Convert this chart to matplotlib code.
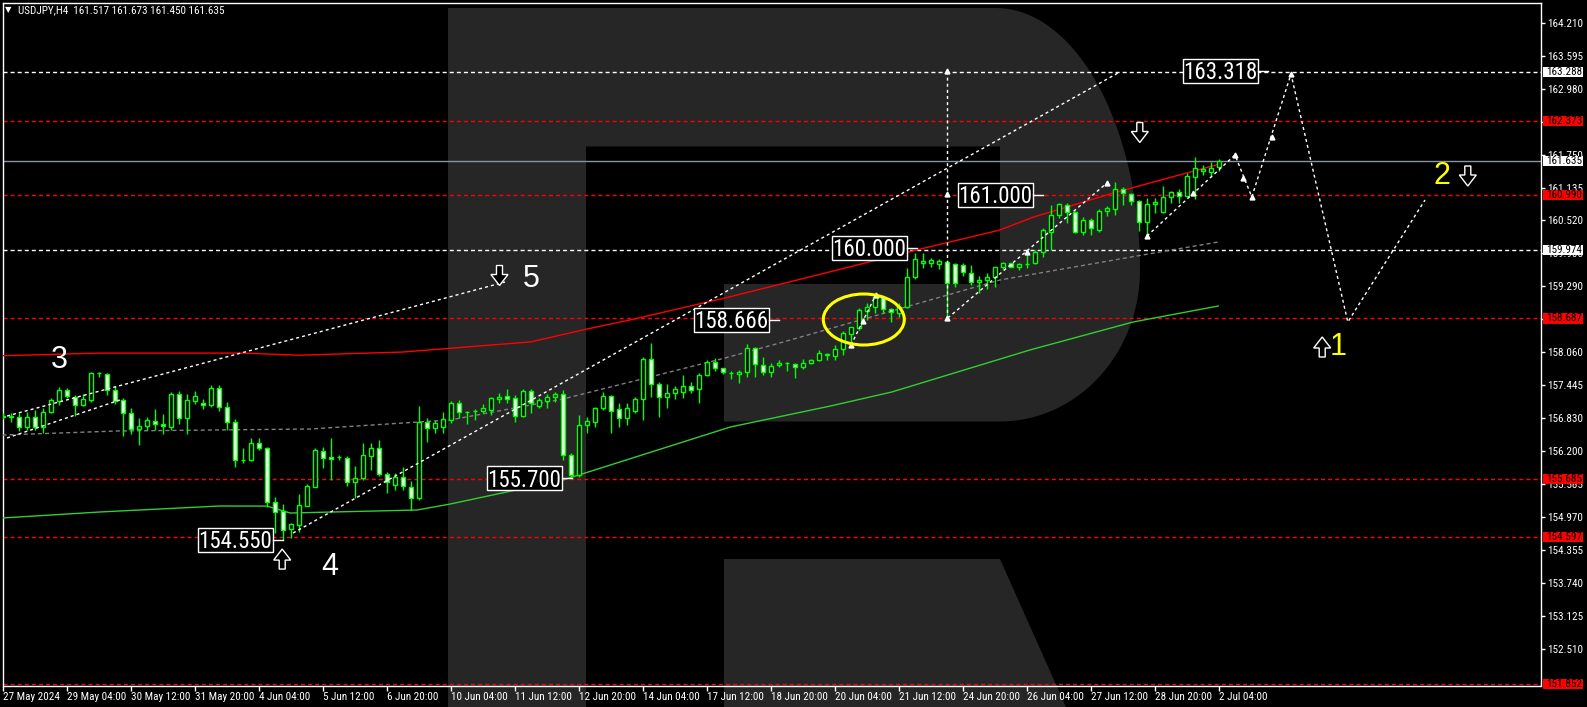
import numpy as np
import matplotlib
matplotlib.use('Agg')
import matplotlib.pyplot as plt
import matplotlib.transforms as mtransforms
from matplotlib.patches import Rectangle, Polygon, Ellipse
from matplotlib.lines import Line2D
from matplotlib import font_manager
from matplotlib.font_manager import FontProperties


def find_family(names):
    for n in names:
        try:
            font_manager.findfont(FontProperties(family=n), fallback_to_default=False)
            return FontProperties(family=n)
        except ValueError:
            pass
    return None


# fonte estreita (como a do MT4), se houver; senao Liberation Sans menor
narrow_fp = find_family(['Liberation Sans Narrow', 'Roboto Condensed', 'Arial Narrow',
                         'Noto Sans Condensed', 'Open Sans Condensed', 'DejaVu Sans Condensed'])
if narrow_fp is None:
    for fam in ['Noto Sans', 'Roboto', 'Open Sans']:
        try:
            f = font_manager.findfont(FontProperties(family=fam, stretch='condensed'),
                                      fallback_to_default=False)
            if 'ondensed' in f or 'arrow' in f:
                narrow_fp = FontProperties(fname=f)
                break
        except ValueError:
            pass
if narrow_fp is not None:
    SMALL, BIG = 8, 16.5
else:
    narrow_fp = find_family(['Liberation Sans', 'Arial']) or FontProperties(family='DejaVu Sans')
    SMALL, BIG = 7, 14
SANS = 'Liberation Sans'

# ---- dados: velas H4 USDJPY (27 May 20:00 .. 2 Jul 04:00) ----
opens = [156.87, 156.85, 156.85, 156.653, 156.84, 156.653, 156.933, 157.139, 157.344, 157.226,
         157.064, 157.157, 157.662, 157.643, 157.344, 157.164, 156.915, 156.615, 156.672, 156.765,
         156.709, 156.665, 157.27, 156.821, 157.151, 157.101, 157.064, 157.382, 157.027, 156.746,
         156.042, 156.042, 156.354, 156.26, 155.264, 155.089, 154.747, 154.821, 155.189, 155.544,
         156.217, 156.092, 156.09, 156.073, 155.625, 155.70, 156.123, 156.26, 155.774, 155.575,
         155.731, 155.544, 155.326, 156.746, 156.634, 156.65, 156.79, 157.101, 156.946, 156.95,
         156.964, 156.977, 157.176, 157.232, 157.195, 156.865, 157.338, 157.058, 157.151, 157.213,
         157.276, 156.136, 155.762, 156.696, 156.758, 157.008, 157.238, 156.99, 156.821, 156.964,
         157.176, 157.93, 157.463, 157.213, 157.288, 157.307, 157.425, 157.363, 157.631, 157.868,
         157.756, 157.66, 157.643, 157.693, 158.129, 157.817, 157.681, 157.817, 157.85, 157.83,
         157.774, 157.849, 157.911, 158.01, 157.986, 158.11, 158.397, 158.515, 158.827, 158.895,
         159.082, 158.858, 158.783, 158.895, 159.456, 159.718, 159.718, 159.705, 159.749, 159.699,
         159.687, 159.544, 159.363, 159.406, 159.456, 159.643, 159.718, 159.643, 159.705, 159.718,
         159.936, 160.31, 160.621, 160.808, 160.671, 160.31, 160.528, 160.341, 160.696, 160.727,
         161.101, 161.014, 160.889, 160.484, 160.827, 160.683, 160.964, 161.045, 160.983, 161.325,
         161.45, 161.43, 161.517]
highs = [156.92, 156.915, 156.915, 156.946, 156.977, 157.008, 157.195, 157.40, 157.382, 157.257,
         157.276, 157.681, 157.693, 157.662, 157.425, 157.195, 157.008, 156.821, 156.84, 156.995,
         156.902, 157.319, 157.332, 157.276, 157.332, 157.182, 157.444, 157.444, 157.133, 156.802,
         156.26, 156.447, 156.46, 156.292, 155.345, 155.22, 154.871, 155.407, 155.594, 156.26,
         156.279, 156.447, 156.136, 156.117, 155.93, 156.354, 156.354, 156.416, 155.824, 155.806,
         155.905, 155.656, 157.052, 156.821, 156.79, 156.946, 157.151, 157.164, 156.964, 156.989,
         157.089, 157.226, 157.301, 157.363, 157.257, 157.363, 157.363, 157.195, 157.276, 157.32,
         157.35, 156.167, 156.883, 156.852, 157.039, 157.319, 157.257, 157.101, 157.101, 157.226,
         157.961, 158.223, 157.506, 157.463, 157.425, 157.631, 157.506, 157.662, 157.911, 157.943,
         157.768, 157.712, 157.724, 158.21, 158.16, 157.973, 157.849, 157.911, 157.88, 157.849,
         157.93, 157.93, 158.098, 158.048, 158.191, 158.459, 158.534, 158.876, 158.97, 159.126,
         159.095, 158.876, 158.982, 159.624, 159.905, 159.905, 159.824, 159.793, 159.78, 159.718,
         159.718, 159.687, 159.481, 159.543, 159.655, 159.749, 159.73, 159.718, 159.886, 159.967,
         160.372, 160.808, 160.852, 160.839, 160.696, 160.59, 160.559, 160.727, 160.789, 161.244,
         161.138, 161.039, 160.901, 160.933, 160.945, 161.163, 161.076, 161.101, 161.40, 161.705,
         161.556, 161.618, 161.673]
lows = [156.80, 156.76, 156.59, 156.603, 156.603, 156.541, 156.915, 157.07, 157.195, 156.865,
        157.052, 157.133, 157.60, 157.257, 157.089, 156.491, 156.528, 156.329, 156.603, 156.603,
        156.528, 156.603, 156.715, 156.522, 157.089, 156.995, 157.039, 156.964, 156.603, 155.918,
        155.993, 156.024, 156.229, 155.17, 154.672, 154.55, 154.58, 154.703, 155.183, 155.531,
        155.887, 155.669, 156.042, 155.563, 155.326, 155.669, 155.855, 155.749, 155.432, 155.482,
        155.482, 155.108, 155.295, 156.385, 156.541, 156.541, 156.74, 156.821, 156.715, 156.79,
        156.914, 156.883, 157.101, 157.114, 156.759, 156.84, 156.914, 157.008, 157.008, 157.132,
        156.042, 155.70, 155.718, 156.54, 156.665, 156.977, 156.54, 156.665, 156.697, 156.914,
        156.79, 157.226, 156.852, 157.008, 157.182, 157.195, 157.301, 157.114, 157.618, 157.712,
        157.65, 157.55, 157.475, 157.60, 157.60, 157.631, 157.60, 157.774, 157.706, 157.569,
        157.743, 157.836, 157.899, 157.911, 157.911, 158.004, 158.204, 158.471, 158.658, 158.783,
        158.783, 158.627, 158.721, 158.877, 159.419, 159.624, 159.655, 159.606, 158.69, 159.282,
        159.481, 159.313, 159.17, 159.232, 159.282, 159.606, 159.643, 159.593, 159.624, 159.699,
        159.83, 159.967, 160.559, 160.465, 160.279, 160.247, 160.247, 160.31, 160.609, 160.621,
        160.808, 160.808, 160.328, 160.25, 160.652, 160.665, 160.839, 160.839, 160.964, 160.925,
        161.369, 161.338, 161.45]
closes = [156.84, 156.86, 156.653, 156.84, 156.653, 156.939, 157.164, 157.351, 157.238, 157.064,
          157.176, 157.662, 157.665, 157.351, 157.151, 156.915, 156.615, 156.672, 156.784, 156.709,
          156.672, 157.276, 156.821, 157.164, 157.238, 157.064, 157.382, 157.027, 156.746, 156.042,
          156.05, 156.354, 156.26, 155.264, 155.077, 154.734, 154.84, 155.201, 155.556, 156.229,
          156.073, 156.055, 156.092, 155.625, 155.70, 156.136, 156.26, 155.774, 155.625, 155.731,
          155.556, 155.326, 156.746, 156.634, 156.728, 156.802, 157.101, 156.933, 156.946, 156.96,
          157.008, 157.195, 157.226, 157.189, 156.865, 157.338, 157.101, 157.164, 157.226, 157.276,
          156.136, 155.762, 156.696, 156.771, 157.008, 157.238, 156.964, 156.821, 157.008, 157.176,
          157.93, 157.463, 157.213, 157.288, 157.363, 157.425, 157.35, 157.631, 157.868, 157.756,
          157.681, 157.665, 157.681, 158.129, 157.837, 157.681, 157.805, 157.849, 157.85, 157.774,
          157.849, 157.911, 158.036, 158.02, 158.11, 158.409, 158.521, 158.845, 158.895, 159.082,
          158.858, 158.802, 158.895, 159.456, 159.793, 159.768, 159.78, 159.761, 159.357, 159.357,
          159.55, 159.363, 159.406, 159.456, 159.643, 159.718, 159.655, 159.699, 159.71, 159.936,
          160.341, 160.621, 160.821, 160.671, 160.31, 160.528, 160.372, 160.696, 160.746, 161.101,
          161.026, 160.889, 160.484, 160.827, 160.87, 160.964, 161.045, 160.983, 161.35, 161.493,
          161.49, 161.493, 161.635]

tick_bars = list(range(0, 153, 8))
tick_labels = ['27 May 2024', '29 May 04:00', '30 May 12:00', '31 May 20:00', '4 Jun 04:00',
               '5 Jun 12:00', '6 Jun 20:00', '10 Jun 04:00', '11 Jun 12:00', '12 Jun 20:00',
               '14 Jun 04:00', '17 Jun 12:00', '18 Jun 20:00', '20 Jun 04:00', '21 Jun 12:00',
               '24 Jun 20:00', '26 Jun 04:00', '27 Jun 12:00', '28 Jun 20:00', '2 Jul 04:00']

price_ticks = [164.210, 163.595, 162.980, 162.365, 161.750, 161.135, 160.520, 159.905, 159.290,
               158.675, 158.060, 157.445, 156.830, 156.215, 155.585, 154.970, 154.355, 153.740,
               153.125, 152.510]
price_tick_labels = ['164.210', '163.595', '162.980', '162.365', '161.750', '161.135', '160.520',
                     '159.905', '159.290', '158.675', '158.060', '157.445', '156.830', '156.200',
                     '155.585', '154.970', '154.355', '153.740', '153.125', '152.510']

red_levels = [162.373, 160.990, 158.687, 155.685, 154.597, 151.852]
white_levels = [163.288, 159.974]
bid = 161.635

# medias moveis / canal
red_ma_x = [-0.06, 12, 30, 37, 50, 53.4, 66, 73, 78.4, 90.25, 103.4, 114.25, 124.6, 128.75, 138.75, 144.6, 151.75]
red_ma_y = [157.99, 158.04, 158.04, 158.00, 158.06, 158.10, 158.25, 158.49, 158.66, 159.07, 159.56,
            159.97, 160.34, 160.58, 161.03, 161.27, 161.56]
green_ma_x = [-0.06, 12.1, 27.1, 33, 35.9, 51.75, 55.9, 70, 90.9, 103.4, 111.1, 128.4, 141.25, 151.9]
green_ma_y = [154.958, 155.07, 155.182, 155.18, 155.051, 155.107, 155.219, 155.668, 156.658, 157.05,
              157.313, 158.10, 158.621, 158.92]
gray_x = [-0.06, 14.25, 38.4, 55.9, 70, 90.25, 97.1, 111.1, 124.6, 144.6, 151.9]
gray_y = [156.509, 156.584, 156.621, 156.79, 157.182, 157.948, 158.229, 158.827, 159.406, 159.93, 160.116]

# linhas tracejadas brancas (analise de ondas)
dotted_lines = [
    ([0.5, 62.75], [156.864, 159.369]),
    ([0.5, 14.6], [156.453, 157.163]),
    ([36.25, 139.6], [154.677, 163.294]),
    ([118, 118], [163.313, 158.696]),
    ([118.1, 138], [158.696, 161.22]),
    ([106, 109.1], [158.191, 159.126]),
    ([143, 154, 156.1, 161, 168.1, 177.75], [160.229, 161.743, 160.958, 163.257, 158.621, 160.902]),
]
anchor_x = [118, 118, 118, 128, 138, 106, 107.5, 109.1, 143, 148.75, 154, 155, 156.1, 158.6, 161]
anchor_y = [163.313, 161.01, 158.696, 159.93, 161.22, 158.191, 158.645, 159.126, 160.229, 161.03,
            161.743, 161.313, 160.958, 162.079, 163.257]

price_labels = ['163.318', '161.000', '160.000', '158.666', '155.700', '154.550']
price_label_bars = [158.1, 130, 114.25, 97, 71.1, 35]

wave_labels = ['3', '4', '5', '1', '2']
wave_bars = [7.06, 40.9, 66.0, 166.9, 179.9]
wave_prices = [157.97, 154.107, 159.472, 158.21, 161.406]
wave_colors = ['white', 'white', 'white', '#ffff00', '#ffff00']

arrow_dirs = ['down', 'up', 'up', 'down', 'down']
arrow_bars = [62.06, 34.9, 164.9, 183.1, 142.1]
arrow_prices = [159.49, 154.19, 158.154, 161.35, 162.163]

# ---- figura ----
W, H = 1587, 707
fig = plt.figure(figsize=(W / 100, H / 100), dpi=100, facecolor='black')

# logotipo "R" de fundo
bg = fig.add_axes([0, 0, 1, 1], zorder=0)
bg.set_xlim(0, W)
bg.set_ylim(H, 0)
bg.axis('off')
logo = '#262626'
bg.add_patch(Rectangle((448, 8), 138, H - 8, color=logo, lw=0))
t1 = np.linspace(np.pi / 2, 0, 40)
t2 = np.linspace(0, -np.pi / 2, 40)
bowl = [(586, 8), (996, 8)]
bowl += list(zip(996 + 144 * np.cos(t1), 270 - 262 * np.sin(t1)))
bowl += list(zip(1000 + 140 * np.cos(t2), 270 - 151.5 * np.sin(t2)))
bowl += [(724, 421.5), (724, 284), (1000, 284), (1000, 146.5), (586, 146.5)]
bg.add_patch(Polygon(bowl, closed=True, color=logo, lw=0))
bg.add_patch(Polygon([(724, 559), (1000, 559), (1066, H), (724, H)], closed=True, color=logo, lw=0))

PX_L, PX_R, PX_T, PX_B = 2.5, 1541, 2.5, 685.5
ax = fig.add_axes([PX_L / W, 1 - PX_B / H, (PX_R - PX_L) / W, (PX_B - PX_T) / H], zorder=1)
ax.set_facecolor('none')
ax.set_xlim(-0.0625, 192.25)
ax.set_ylim(151.827, 164.593)

# niveis horizontais
for p in red_levels:
    ax.axhline(p, color='#ff0000', lw=1, ls=(0, (2.9, 2.2)), zorder=2)
for p in white_levels:
    ax.axhline(p, color='white', lw=1, ls=(0, (2.9, 2.2)), zorder=2)
ax.axhline(bid, color='#8a94a6', lw=1, zorder=2)

ax.plot(red_ma_x, red_ma_y, color='#ff0000', lw=1, zorder=3)
ax.plot(green_ma_x, green_ma_y, color='#32cd32', lw=1, zorder=3)
ax.plot(gray_x, gray_y, color='#808080', lw=1, ls=(0, (2.9, 2.2)), zorder=3)

# velas
o = np.array(opens)
h = np.array(highs)
l = np.array(lows)
c = np.array(closes)
x = np.arange(len(o))
up = c >= o
ax.vlines(x, l, h, color='#00ff00', lw=1, zorder=4)
ax.bar(x, np.abs(c - o), bottom=np.minimum(o, c), width=0.55,
       color=np.where(up, 'black', 'white'), edgecolor='#00ff00', linewidth=1, zorder=5)

for xs, ys in dotted_lines:
    ax.plot(xs, ys, color='white', lw=1, ls=(0, (2.2, 2.2)), zorder=6)
ax.plot(anchor_x, anchor_y, ls='none', marker='^', ms=3.5, color='white', zorder=7)


def at(bx, py):
    return mtransforms.IdentityTransform() + mtransforms.ScaledTranslation(bx, py, ax.transData)


# caixas com precos
for txt, bx in zip(price_labels, price_label_bars):
    py = float(txt)
    tr = at(bx, py)
    ax.add_patch(Rectangle((-85, -12), 75, 24, transform=tr, facecolor='black', edgecolor='white',
                           lw=1, zorder=8, clip_on=False))
    ax.add_line(Line2D([-10, 0], [0, 0], transform=tr, color='white', lw=1, zorder=8))
    ax.text(-47.5, -BIG * 0.72 * 100 / 72 / 2, txt, transform=tr, ha='center', va='baseline',
            color='white', fontproperties=narrow_fp, fontsize=BIG, zorder=9)

for txt, bx, py, col in zip(wave_labels, wave_bars, wave_prices, wave_colors):
    ax.text(0, -11, txt, transform=at(bx, py), ha='center', va='baseline', color=col,
            fontsize=22, family=SANS, zorder=9)

up_arrow = np.array([(0, 10), (8.5, -1), (3, -1), (3, -10), (-3, -10), (-3, -1), (-8.5, -1)])
for d, bx, py in zip(arrow_dirs, arrow_bars, arrow_prices):
    pts = up_arrow if d == 'up' else up_arrow * [1, -1]
    ax.add_patch(Polygon(pts, closed=True, transform=at(bx, py), facecolor='black',
                         edgecolor='white', lw=1, zorder=9))

ax.add_patch(Ellipse((0, 0), 81, 51, transform=at(107.6, 158.668), fill=False,
                     edgecolor='#ffff00', lw=2.2, zorder=9))

# eixo de precos (direita)
ax.yaxis.tick_right()
ax.set_yticks(price_ticks)
ax.set_yticklabels(price_tick_labels, fontproperties=narrow_fp, fontsize=SMALL, color='white')
ax.tick_params(axis='y', colors='white', direction='out', length=3, width=1, pad=1.5)

ax.set_xticks(tick_bars)
ax.set_xticklabels(tick_labels, fontproperties=narrow_fp, fontsize=SMALL, color='white', ha='left')
ax.tick_params(axis='x', colors='white', direction='out', length=3.5, width=1, pad=1.5)

for s in ax.spines.values():
    s.set_color('white')
    s.set_linewidth(1)

tb = mtransforms.blended_transform_factory(ax.transAxes, ax.transData)
bx0 = (1543 - PX_L) / (PX_R - PX_L)
bw = 40 / (PX_R - PX_L)
for p, col in [(v, '#ff0000') for v in red_levels] + [(v, 'white') for v in white_levels + [bid]]:
    ax.add_patch(Rectangle((bx0, p - 0.095), bw, 0.19, transform=tb, facecolor=col, edgecolor=col,
                           lw=0, zorder=20, clip_on=False))
    ax.text(bx0 + 3.5 / (PX_R - PX_L), p, f'{p:.3f}', transform=tb, color='black',
            fontproperties=narrow_fp, fontsize=SMALL, ha='left', va='center', zorder=21,
            clip_on=False)

fig.text(5 / W, 1 - 10 / H, '\u25bc', color='white', fontsize=6, family='DejaVu Sans', va='center')
fig.text(18 / W, 1 - 10.5 / H, 'USDJPY,H4  161.517 161.673 161.450 161.635', color='white',
         fontproperties=narrow_fp, fontsize=SMALL, va='center')

fig.savefig('out.png', dpi=100, facecolor='black')
